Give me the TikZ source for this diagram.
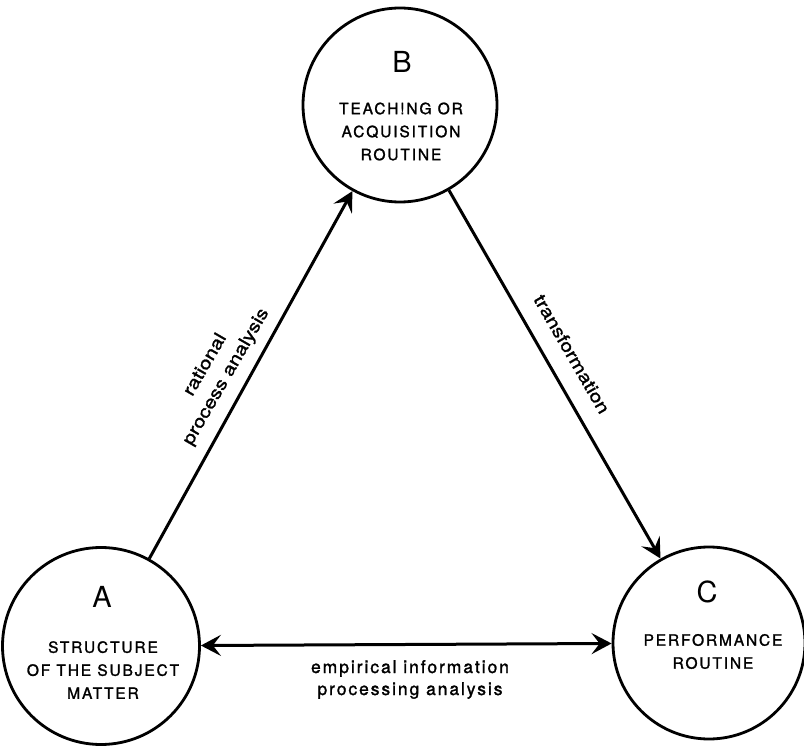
\documentclass[tikz,border=0pt]{standalone}
\usepackage{fontspec}
\setmainfont{TeX Gyre Heros}
\usetikzlibrary{arrows.meta}
\begin{document}
\begin{tikzpicture}[x=1pt,y=-1pt,
  circ/.style={circle,draw,line width=2.8pt,inner sep=0pt,minimum size=#1},
  letter/.style={inner sep=0pt,font=\fontsize{29}{29}\selectfont},
  caps/.style={inner sep=0pt,align=center,font=\fontsize{15.5}{23}\selectfont\addfontfeatures{LetterSpace=12,FakeBold=1.5}},
  lower/.style={inner sep=0pt,align=center,font=\fontsize{17.5}{22}\selectfont\addfontfeatures{LetterSpace=11,FakeBold=1.5}},
  slanted/.style={inner sep=0pt,align=center,font=\fontsize{17.5}{24}\selectfont\addfontfeatures{FakeStretch=1.2,FakeBold=1.5}},
  conn/.style={line width=3pt,-{Stealth[length=20pt,width=21pt,inset=8pt]}},
  conntwo/.style={line width=3pt,{Stealth[length=20pt,width=21pt,inset=8pt]}-{Stealth[length=20pt,width=21pt,inset=8pt]}}]
\useasboundingbox (0,0) rectangle (804,746);
% circles
\node[circ=197pt] (A) at (101,646) {};
\node[circ=194pt] (B) at (400,105) {};
\node[circ=192pt] (C) at (709,643) {};
% letters
\node[letter] (la) at (102,597) {A};
\node[letter] (lb) at (402,62) {B};
\node[letter] (lc) at (707,592) {C};
% circle texts
\node[caps] (ta) at (103,670) {STRUCTURE\\OF THE SUBJECT\\MATTER};
\node[caps] (tb) at (401,131.5) {TEACH!NG OR\\ACQUISITION\\ROUTINE};
\node[caps] (tc) at (713,651.5) {PERFORMANCE\\ROUTINE};
% connectors
\draw[conn] (A) -- (B);
\draw[conn] (B) -- (C);
\draw[conntwo] (A) -- (C);
% labels
\node[slanted,rotate=60] (lab) at (216,371) {rational\\process analysis};
\node[slanted,rotate=-60] (lbc) at (572,354) {transformation};
\node[lower] (lac) at (410,679.5) {empirical information\\processing analysis};
\end{tikzpicture}
\end{document}
